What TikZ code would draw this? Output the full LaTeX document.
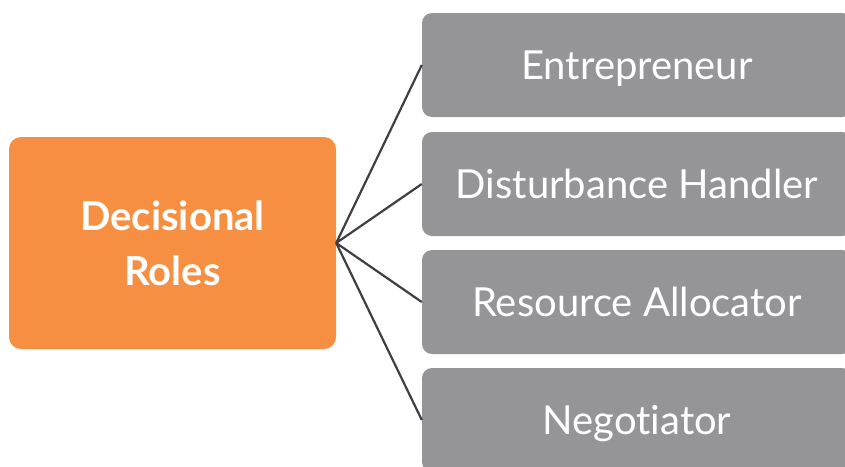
\documentclass[tikz,border=0pt]{standalone}
\usepackage{fontspec}
\setmainfont[Ligatures = NoCommon]{Lato}
\definecolor{roleorange}{HTML}{F68F41}
\definecolor{rolegray}{HTML}{959597}
\definecolor{linkgray}{HTML}{3F3F41}
\tikzset{
    mainbox/.style = {fill = roleorange, rounded corners = 12pt, minimum width = 327pt, minimum height = 212pt, text = white, font = \fontsize{40}{55}\selectfont\bfseries, align = center},
    rolebox/.style = {fill = rolegray, rounded corners = 10pt, minimum width = 430pt, minimum height = 104pt, text = white, text depth = 0pt, font = \fontsize{40}{44}\selectfont},
    link/.style = {draw = linkgray, line width = 2.2pt}
}
\begin{document}
\begin{tikzpicture}[x = 1pt, y = -1pt]
                    \useasboundingbox (0, 0) rectangle (845, 466);

                    \node[mainbox] (decisional) at (172.5, 243) {Decisional\\Roles};

                    \node[rolebox] (entrepreneur) at (637, 65) {Entrepreneur};
                    \node[rolebox] (disturbance) at (637, 184) {Disturbance Handler};
                    \node[rolebox] (allocator) at (637, 302) {Resource Allocator};
                    \node[rolebox] (negotiator) at (637, 420) {Negotiator};

                    \draw[link]
                    (decisional.east) -- (entrepreneur.west)
                    (decisional.east) -- (disturbance.west)
                    (decisional.east) -- (allocator.west)
                    (decisional.east) -- (negotiator.west)
                    ;
\end{tikzpicture}
\end{document}
